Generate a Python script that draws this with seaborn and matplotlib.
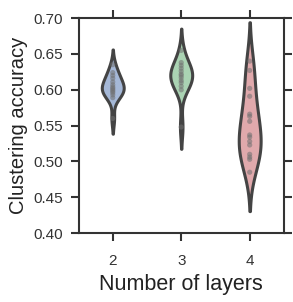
import numpy as np
import pandas as pd
import matplotlib
matplotlib.use("Agg")
import matplotlib.pyplot as plt
import seaborn as sns

layers_2 = [0.635, 0.624, 0.620, 0.616, 0.611, 0.607, 0.604, 0.602, 0.600, 0.598, 0.596, 0.593, 0.589, 0.560]
layers_3 = [0.655, 0.638, 0.634, 0.630, 0.626, 0.622, 0.620, 0.617, 0.613, 0.610, 0.605, 0.600, 0.548]
layers_4 = [0.640, 0.627, 0.602, 0.591, 0.566, 0.563, 0.556, 0.537, 0.534, 0.528, 0.523, 0.510, 0.506, 0.503, 0.485]
categories = ["2", "3", "4"]
fill_colors = ["#a5b8d7", "#aad3b3", "#e0a9ac"]
yticks = [0.40, 0.45, 0.50, 0.55, 0.60, 0.65, 0.70]

df = pd.DataFrame({
    "layers": [categories[0]] * len(layers_2) + [categories[1]] * len(layers_3) + [categories[2]] * len(layers_4),
    "acc": layers_2 + layers_3 + layers_4,
})

sns.set_theme(style="ticks")
plt.rcParams["font.family"] = ["Liberation Sans", "DejaVu Sans"]

fig = plt.figure(figsize=(2.93, 3.02), dpi=100)
ax = fig.add_axes([0.268, 0.228, 0.701, 0.712])

sns.violinplot(data=df, x="layers", y="acc", hue="layers", order=categories,
               palette=fill_colors, saturation=1, density_norm="width", width=0.32,
               inner="point", linewidth=2.2, linecolor="#444444", cut=2, legend=False, ax=ax)
for coll in ax.collections:
    if coll.__class__.__name__ == "PathCollection":
        coll.set_alpha(0.55)
        coll.set_facecolor("#707070")
        coll.set_edgecolor("none")
        coll.set_sizes([14])

ax.set_ylim(0.40, 0.70)
ax.set_yticks(yticks)
ax.set_yticklabels([f"{t:.2f}" for t in yticks])
ax.set_xlim(-0.5, 2.5)
ax.set_xlabel("Number of layers", fontsize=15.5, color="#222222", labelpad=4)
ax.set_ylabel("Clustering accuracy", fontsize=14.5, color="#222222", labelpad=4)
ax.tick_params(axis="both", labelsize=11, direction="out", length=6, width=1.5,
               color="#333333", labelcolor="#333333", top=True, right=True)
ax.tick_params(axis="x", pad=9)
ax.tick_params(axis="y", pad=5)
for s in ax.spines.values():
    s.set_linewidth(1.5)
    s.set_color("#333333")

fig.savefig("out.png", dpi=100)
